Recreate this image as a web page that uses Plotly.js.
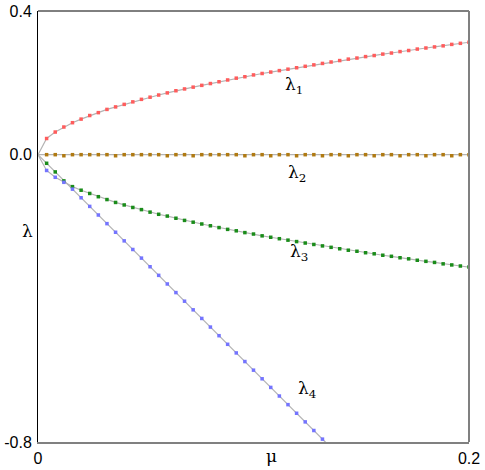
<!DOCTYPE html>
<html>
<head>
<meta charset="utf-8">
<script src="https://cdn.plot.ly/plotly-3.0.1.min.js"></script>
<style>
  html, body { margin: 0; padding: 0; background: #fff; }
  #chart { width: 485px; height: 470px; }
</style>
</head>
<body>
<div id="chart"></div>
<script>
// μ sample points (markers)
const mu = [
  0.004, 0.008, 0.012, 0.016, 0.020, 0.024, 0.028, 0.032, 0.036, 0.040,
  0.044, 0.048, 0.052, 0.056, 0.060, 0.064, 0.068, 0.072, 0.076, 0.080,
  0.084, 0.088, 0.092, 0.096, 0.100, 0.104, 0.108, 0.112, 0.116, 0.120,
  0.124, 0.128, 0.132, 0.136, 0.140, 0.144, 0.148, 0.152, 0.156, 0.160,
  0.164, 0.168, 0.172, 0.176, 0.180, 0.184, 0.188, 0.192, 0.196, 0.200
];

// λ1 (red)
const lam1 = [
  0.045, 0.063, 0.077, 0.089, 0.099, 0.109, 0.117, 0.126, 0.133, 0.140,
  0.147, 0.154, 0.160, 0.166, 0.172, 0.178, 0.183, 0.188, 0.193, 0.198,
  0.203, 0.208, 0.213, 0.217, 0.222, 0.226, 0.230, 0.234, 0.238, 0.242,
  0.246, 0.250, 0.254, 0.258, 0.262, 0.266, 0.269, 0.273, 0.276, 0.280,
  0.283, 0.287, 0.290, 0.294, 0.297, 0.300, 0.303, 0.307, 0.310, 0.313
];

// λ2 (brown), zero with small wobble
const lam2 = [
  0, 0, -0.003, 0, 0, 0, 0, 0, -0.003, 0,
  0, 0, 0, 0, -0.003, 0, 0, -0.003, 0, 0,
  0, 0, 0, -0.003, 0, 0, -0.003, 0, 0, -0.003,
  0, 0, -0.003, 0, 0, -0.003, 0, 0, -0.003, 0,
  0, -0.003, 0, 0, -0.003, 0, 0, -0.003, 0, 0
];

// λ3 (green)
const lam3 = [
  -0.024, -0.048, -0.073, -0.089, -0.099, -0.108, -0.117, -0.125, -0.133, -0.140,
  -0.147, -0.153, -0.160, -0.166, -0.171, -0.177, -0.183, -0.188, -0.193, -0.198,
  -0.203, -0.208, -0.212, -0.217, -0.221, -0.226, -0.230, -0.234, -0.238, -0.242,
  -0.246, -0.250, -0.254, -0.258, -0.262, -0.266, -0.269, -0.273, -0.276, -0.280,
  -0.283, -0.287, -0.290, -0.294, -0.297, -0.300, -0.304, -0.307, -0.310, -0.313
];

// λ4 (blue), runs off the bottom after μ ≈ 0.133
const lam4 = [
  -0.044, -0.063, -0.077, -0.096, -0.120, -0.144, -0.168, -0.192, -0.216, -0.240,
  -0.264, -0.288, -0.312, -0.336, -0.360, -0.384, -0.408, -0.432, -0.456, -0.480,
  -0.504, -0.528, -0.552, -0.576, -0.600, -0.624, -0.648, -0.672, -0.696, -0.720,
  -0.744, -0.768, -0.792, -0.816
];

// green/blue swap branches here (the two curves cross)
const swapAt = 3;

const xTicks = [0, 0.2];
const xTickText = ['0', '0.2'];
const yTicks = [0.4, 0.0, -0.8];
const yTickText = ['0.4', '0.0', '-0.8'];

const labels = [
  { text: 'λ<sub>1</sub>', x: 0.119, y: 0.193 },
  { text: 'λ<sub>2</sub>', x: 0.120, y: -0.052 },
  { text: 'λ<sub>3</sub>', x: 0.121, y: -0.273 },
  { text: 'λ<sub>4</sub>', x: 0.125, y: -0.655 }
];

// gray curves start at the origin and follow the smooth branches
const withOrigin = arr => [0].concat(arr);
const muBlue = mu.slice(0, lam4.length);
const sqrtBranch = lam4.slice(0, swapAt).concat(lam3.slice(swapAt));
const linBranch = lam3.slice(0, swapAt).concat(lam4.slice(swapAt));

const gray = { color: '#b4b4b4', width: 1.2 };
function curve(x, y) {
  return { x: withOrigin(x), y: withOrigin(y), mode: 'lines', line: gray, hoverinfo: 'skip' };
}
function dots(x, y, color) {
  return { x: x, y: y, mode: 'markers', marker: { symbol: 'square', size: 3.5, color: color, line: { width: 0 } } };
}

const traces = [
  curve(mu, lam1),
  curve(mu, lam2.map(() => 0)),
  curve(mu, sqrtBranch),
  curve(muBlue, linBranch),
  dots(mu, lam1, '#ff5c5c'),
  dots(mu, lam2, '#b07a12'),
  dots(mu, lam3, '#1a8c1a'),
  dots(muBlue, lam4, '#7474ff')
];

const tickFont = { family: 'Liberation Sans, Arial, sans-serif', size: 16, color: '#000' };
const lamFont = { family: 'DejaVu Serif, serif', size: 17, color: '#000' };

const annotations = labels.map(l => ({
  x: l.x, y: l.y, xref: 'x', yref: 'y', text: l.text, showarrow: false, font: lamFont,
  xanchor: 'center', yanchor: 'middle'
}));
annotations.push(
  { x: -0.024, xref: 'paper', y: -0.212, yref: 'y', text: 'λ', showarrow: false, font: lamFont,
    xanchor: 'center', yanchor: 'middle' },
  { x: 0.1085, xref: 'x', y: -0.033, yref: 'paper', text: 'μ', showarrow: false, font: lamFont,
    xanchor: 'center', yanchor: 'middle' }
);

const layout = {
  width: 485, height: 470,
  margin: { l: 38, r: 16, t: 11, b: 28 },
  paper_bgcolor: '#fff', plot_bgcolor: '#fff',
  showlegend: false,
  xaxis: {
    range: [0, 0.2], tickvals: xTicks, ticktext: xTickText,
    showgrid: false, zeroline: false, ticks: '',
    showline: true, linecolor: '#808080', linewidth: 2,
    tickfont: tickFont, ticklabelstandoff: 1
  },
  yaxis: {
    range: [-0.8, 0.4], tickvals: yTicks, ticktext: yTickText,
    showgrid: false, zeroline: false, ticks: '',
    showline: true, linecolor: '#000', linewidth: 1,
    tickfont: tickFont, ticklabelstandoff: 2
  },
  shapes: [
    { type: 'line', xref: 'paper', yref: 'paper', x0: 0, x1: 1, y0: 1, y1: 1, line: { color: '#000', width: 1 } },
    { type: 'line', xref: 'paper', yref: 'paper', x0: 1, x1: 1, y0: 0, y1: 1, line: { color: '#808080', width: 2 } }
  ],
  annotations: annotations
};

Plotly.newPlot('chart', traces, layout, { displayModeBar: false, staticPlot: true });
</script>
</body>
</html>
